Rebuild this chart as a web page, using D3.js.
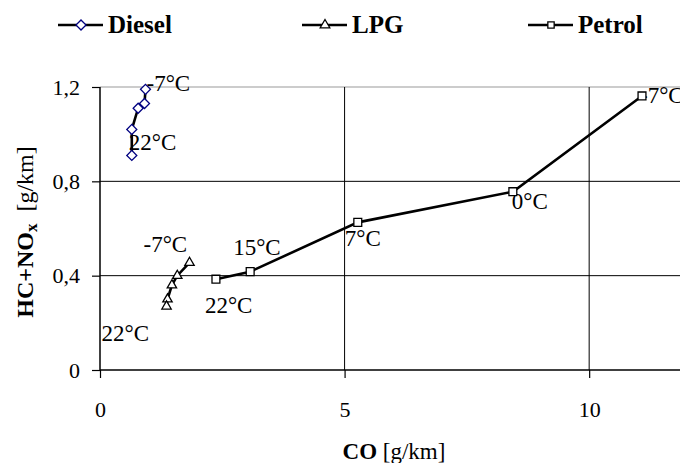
<!DOCTYPE html>
<html>
<head>
<meta charset="utf-8">
<script src="https://cdn.jsdelivr.net/npm/d3@7"></script>
<style>
    body { margin: 0; background: #fff; }
    svg { display: block; font-family: "Liberation Serif", "Times New Roman", serif; }
</style>
</head>
<body>
<script>
// values
const seriesNames = ["Diesel", "LPG", "Petrol"];

const dieselCO = [0.93, 0.91, 0.78, 0.65, 0.65];
const dieselHC = [1.19, 1.13, 1.11, 1.02, 0.91];
const dieselLabels = ["-7°C", "", "", "", "22°C"];

const lpgCO = [1.83, 1.58, 1.47, 1.38, 1.36];
const lpgHC = [0.455, 0.40, 0.36, 0.30, 0.27];
const lpgLabels = ["-7°C", "", "", "", "22°C"];

const petrolCO = [2.37, 3.07, 5.27, 8.44, 11.08];
const petrolHC = [0.385, 0.417, 0.626, 0.756, 1.162];
const petrolLabels = ["22°C", "15°C", "7°C", "0°C", "-7°C"];

const xTicks = [0, 5, 10];
const yTicks = [0, 0.4, 0.8, 1.2];

const width = 680, height = 463;

const x = d3.scaleLinear().domain([0, 12]).range([100, 687]);
const y = d3.scaleLinear().domain([0, 1.2]).range([370, 87]);

// label offsets from their point (px)
const labelOffsets = {
    Diesel: [[1, 2], null, null, null, [-3, -5]],
    LPG: [[-46, -11], null, null, null, [-65, 35]],
    Petrol: [[-11, 34], [-17, -17], [-13, 24], [-1, 17], [-2, 7]]
};

const series = [
    {name: seriesNames[0], co: dieselCO, hc: dieselHC, labels: dieselLabels, shape: "diamond", stroke: "#000080"},
    {name: seriesNames[1], co: lpgCO, hc: lpgHC, labels: lpgLabels, shape: "triangle", stroke: "#000"},
    {name: seriesNames[2], co: petrolCO, hc: petrolHC, labels: petrolLabels, shape: "square", stroke: "#000"}
].map(s => ({...s, points: s.co.map((c, i) => ({co: c, hc: s.hc[i], label: s.labels[i], i}))}));

const symbolPath = {
    diamond: d3.symbol(d3.symbolSquare, 50)(),
    triangle: d3.symbol(d3.symbolTriangle, 38)(),
    square: d3.symbol(d3.symbolSquare, 62)()
};
const symbolRotate = {diamond: 45, triangle: 0, square: 0};

const svg = d3.select("body").append("svg")
    .attr("width", width)
    .attr("height", height)
    .attr("viewBox", [0, 0, width, height]);

// grid
svg.append("line")
    .attr("x1", x(0)).attr("x2", width)
    .attr("y1", y(1.2)).attr("y2", y(1.2))
    .attr("stroke", "#999").attr("stroke-width", 1.2);

svg.append("g")
    .selectAll("line")
    .data(yTicks.filter(d => d > 0 && d < 1.2))
    .join("line")
    .attr("x1", x(0)).attr("x2", width)
    .attr("y1", d => y(d)).attr("y2", d => y(d))
    .attr("stroke", "#000").attr("stroke-width", 1);

svg.append("g")
    .selectAll("line")
    .data(xTicks.filter(d => d > 0))
    .join("line")
    .attr("x1", d => x(d)).attr("x2", d => x(d))
    .attr("y1", y(1.2)).attr("y2", y(0))
    .attr("stroke", "#000").attr("stroke-width", 1);

// axes
const fmtY = d => d === 0 ? "0" : d3.format(".1f")(d).replace(".", ",");

svg.append("g")
    .attr("transform", `translate(${x(0)},0)`)
    .call(d3.axisLeft(y).tickValues(yTicks).tickFormat(fmtY).tickSize(8).tickPadding(12))
    .call(g => g.select(".domain").attr("stroke-width", 1.5).attr("d", `M0,${y(1.2)}V${y(0)}`))
    .call(g => g.selectAll(".tick line").attr("stroke-width", 1.2))
    .call(g => g.selectAll(".tick text").attr("font-size", 22).attr("font-family", "Liberation Serif").attr("fill", "#000"));

svg.append("g")
    .attr("transform", `translate(0,${y(0)})`)
    .call(d3.axisBottom(x).tickValues(xTicks).tickSize(8).tickPadding(23))
    .call(g => g.select(".domain").attr("stroke-width", 1.5).attr("d", `M${x(0)},0H${width}`))
    .call(g => g.selectAll(".tick line").attr("stroke-width", 1.2))
    .call(g => g.selectAll(".tick text").attr("font-size", 22).attr("font-family", "Liberation Serif").attr("fill", "#000"));

// axis titles
const xTitle = svg.append("text")
    .attr("x", 394).attr("y", 459)
    .attr("text-anchor", "middle")
    .attr("font-size", 23);
xTitle.append("tspan").attr("font-weight", "bold").text("CO");
xTitle.append("tspan").text(" [g/km]");

const yTitle = svg.append("text")
    .attr("transform", "translate(33,232) rotate(-90)")
    .attr("text-anchor", "middle")
    .attr("font-size", 24);
yTitle.append("tspan").attr("font-weight", "bold").text("HC+NO");
yTitle.append("tspan").attr("font-weight", "bold").attr("font-size", 17).attr("dy", 4).text("x");
yTitle.append("tspan").attr("dy", -4).text("\u00a0\u00a0[g/km]");

// lines
const line = d3.line().x(d => x(d.co)).y(d => y(d.hc));

svg.append("g")
    .selectAll("path")
    .data(series)
    .join("path")
    .attr("fill", "none")
    .attr("stroke", "#000")
    .attr("stroke-width", 2.6)
    .attr("d", s => line(s.points));

// point labels (under markers)
series.forEach(s => {
    svg.append("g")
        .attr("font-size", 23)
        .selectAll("text")
        .data(s.points.filter(p => p.label))
        .join("text")
        .attr("x", p => x(p.co) + labelOffsets[s.name][p.i][0])
        .attr("y", p => y(p.hc) + labelOffsets[s.name][p.i][1])
        .text(p => p.label);
});

// markers
series.forEach(s => {
    svg.append("g")
        .selectAll("path")
        .data(s.points)
        .join("path")
        .attr("d", symbolPath[s.shape])
        .attr("transform", p => `translate(${x(p.co)},${y(p.hc)}) rotate(${symbolRotate[s.shape]})`)
        .attr("fill", "#fff")
        .attr("stroke", s.stroke)
        .attr("stroke-width", 1.3);
});

// legend
const legendX = [58, 302, 528];
const legend = svg.append("g")
    .selectAll("g")
    .data(series)
    .join("g")
    .attr("transform", (s, i) => `translate(${legendX[i]},25)`);

legend.append("line")
    .attr("x1", 0).attr("x2", 45)
    .attr("stroke", "#000").attr("stroke-width", 2.6);

legend.append("path")
    .attr("d", s => s.shape === "diamond" ? symbolPath.diamond : d3.symbol(s.shape === "triangle" ? d3.symbolTriangle : d3.symbolSquare, 40)())
    .attr("transform", s => `translate(23,0) rotate(${symbolRotate[s.shape]})`)
    .attr("fill", "#fff")
    .attr("stroke", s => s.stroke)
    .attr("stroke-width", 1.3);

legend.append("text")
    .attr("x", 50)
    .attr("y", 8)
    .attr("font-size", 25)
    .attr("font-weight", "bold")
    .text(s => s.name);
</script>
</body>
</html>
